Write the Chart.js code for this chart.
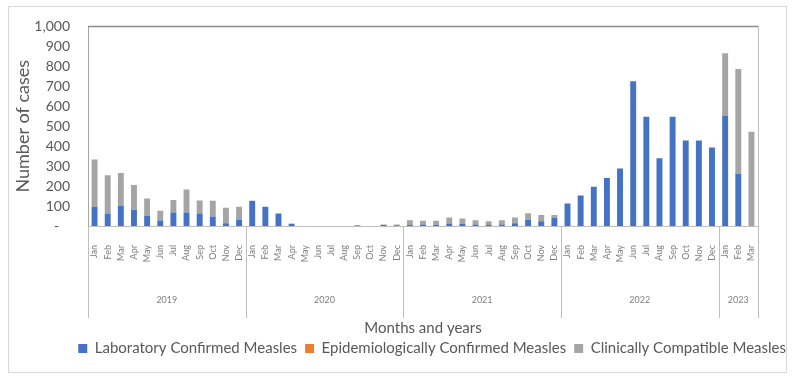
<!DOCTYPE html>
<html>
<head>
<meta charset="utf-8">
<script src="https://cdn.jsdelivr.net/npm/chart.js@4.4.1/dist/chart.umd.min.js"></script>
<style>
    html, body { margin: 0; padding: 0; background: #fff; }
    #wrap { width: 794px; height: 380px; }
</style>
</head>
<body>
<div id="wrap"><canvas id="measles-chart" width="794" height="380"></canvas></div>
<script>
    // chart data
    const months = ['Jan', 'Feb', 'Mar', 'Apr', 'May', 'Jun', 'Jul', 'Aug', 'Sep', 'Oct', 'Nov', 'Dec'];
    const years = ['2019', '2020', '2021', '2022', '2023'];
    const months_per_year = [12, 12, 12, 12, 3];

    const lab_confirmed = [
        95, 62, 100, 80, 52, 28, 68, 68, 62, 48, 14, 33,
        126, 97, 63, 10, 0, 0, 0, 0, 2, 0, 5, 4,
        6, 8, 6, 12, 10, 8, 5, 8, 14, 30, 24, 40,
        113, 153, 197, 240, 288, 725, 547, 340, 547, 428, 428, 393,
        552, 262, 0
    ];
    const epi_confirmed = [
        0, 0, 0, 0, 0, 0, 0, 0, 0, 0, 0, 0,
        0, 0, 0, 0, 0, 0, 0, 0, 0, 0, 0, 0,
        0, 0, 0, 0, 0, 0, 0, 0, 0, 0, 0, 0,
        0, 0, 0, 0, 0, 0, 0, 0, 0, 0, 0, 0,
        0, 0, 0
    ];
    const clinically_compatible = [
        238, 192, 166, 126, 86, 48, 62, 115, 66, 78, 78, 63,
        0, 0, 0, 2, 0, 0, 0, 0, 3, 0, 3, 3,
        23, 18, 20, 31, 27, 21, 19, 21, 29, 34, 31, 15,
        0, 0, 0, 0, 0, 0, 0, 0, 0, 0, 0, 0,
        314, 524, 472
    ];
    const y_max = 1000;
    const y_step = 100;

    const font_family = "Lato, 'Liberation Sans', sans-serif";
    const text_color = '#595959';

    // month labels for every bar
    let labels = [];
    years.forEach((y, i) => {
        labels = labels.concat(months.slice(0, months_per_year[i]));
    });

    // white background + outer frame
    const frame_plugin = {
        id: 'frame',
        beforeDraw(chart) {
            const ctx = chart.ctx;
            ctx.save();
            ctx.fillStyle = '#fff';
            ctx.fillRect(0, 0, chart.width, chart.height);
            ctx.strokeStyle = '#d9d9d9';
            ctx.lineWidth = 1;
            ctx.strokeRect(8.5, 6.5, chart.width - 16, chart.height - 14);
            ctx.restore();
        }
    };

    // year groups below the month labels, plus x title
    const year_axis_plugin = {
        id: 'yearAxis',
        afterDraw(chart) {
            const ctx = chart.ctx;
            const x = chart.scales.x;
            const area = chart.chartArea;
            ctx.save();

            // top line of plot box
            ctx.strokeStyle = '#8c8c8c';
            ctx.lineWidth = 1.5;
            ctx.beginPath();
            ctx.moveTo(area.left, area.top);
            ctx.lineTo(area.right, area.top);
            ctx.stroke();

            ctx.strokeStyle = '#bfbfbf';
            ctx.lineWidth = 1;
            ctx.fillStyle = '#7f7f7f';
            ctx.font = '9px ' + font_family;
            ctx.textAlign = 'center';
            ctx.textBaseline = 'middle';
            let start = 0;
            years.forEach((y, i) => {
                const n = months_per_year[i];
                const x0 = Math.round(x.getPixelForValue(start - 0.5)) + 0.5;
                ctx.beginPath();
                ctx.moveTo(x0, area.bottom);
                ctx.lineTo(x0, area.bottom + 92);
                ctx.stroke();
                ctx.fillText(y, x.getPixelForValue(start + (n - 1) / 2), area.bottom + 74);
                start += n;
            });
            const x_end = Math.round(x.getPixelForValue(start - 0.5)) + 0.5;
            ctx.beginPath();
            ctx.moveTo(x_end, area.bottom);
            ctx.lineTo(x_end, area.bottom + 92);
            ctx.stroke();

            ctx.fillStyle = text_color;
            ctx.font = '15px ' + font_family;
            ctx.fillText('Months and years', (area.left + area.right) / 2, area.bottom + 102);
            ctx.restore();
        }
    };

    const ctx = document.getElementById('measles-chart');
    new Chart(ctx, {
        type: 'bar',
        data: {
            labels: labels,
            datasets: [{
                    label: 'Laboratory Confirmed Measles',
                    data: lab_confirmed,
                    backgroundColor: '#4472c4',
                    borderWidth: 0
                }, {
                    label: 'Epidemiologically Confirmed Measles',
                    data: epi_confirmed,
                    backgroundColor: '#ed7d31',
                    borderWidth: 0
                }, {
                    label: 'Clinically Compatible Measles',
                    data: clinically_compatible,
                    backgroundColor: '#a5a5a5',
                    borderWidth: 0
                }]
        },
        options: {
            responsive: false,
            animation: false,
            devicePixelRatio: 1,
            categoryPercentage: 1,
            barPercentage: 0.45,
            layout: {
                padding: { left: 8, right: 0, top: 18, bottom: 14 }
            },
            plugins: {
                tooltip: { enabled: false },
                legend: {
                    position: 'bottom',
                    align: 'end',
                    labels: {
                        boxWidth: 9,
                        boxHeight: 9,
                        padding: 8,
                        color: text_color,
                        font: { family: font_family, size: 15 }
                    }
                }
            },
            scales: {
                x: {
                    stacked: true,
                    grid: { display: false, drawTicks: false },
                    border: { color: '#bfbfbf' },
                    ticks: {
                        autoSkip: false,
                        minRotation: 90,
                        maxRotation: 90,
                        padding: 19,
                        color: '#7f7f7f',
                        font: { family: font_family, size: 9 }
                    },
                    afterFit: (s) => { s.height = 107; }
                },
                y: {
                    stacked: true,
                    min: 0,
                    max: y_max,
                    grid: { display: false, drawTicks: false },
                    border: { color: '#a6a6a6' },
                    ticks: {
                        stepSize: y_step,
                        padding: 18,
                        color: text_color,
                        font: { family: font_family, size: 14 },
                        callback: (v) => v === 0 ? '-   ' : v.toLocaleString('en-US')
                    },
                    title: {
                        display: true,
                        text: 'Number of cases',
                        color: text_color,
                        font: { family: font_family, size: 18 }
                    },
                    afterFit: (s) => { s.width = 80; }
                },
                y2: {
                    position: 'right',
                    grid: { display: false, drawTicks: false },
                    border: { color: '#bfbfbf' },
                    ticks: { display: false },
                    afterFit: (s) => { s.width = 36; }
                }
            }
        },
        plugins: [frame_plugin, year_axis_plugin]
    });
</script>
</body>
</html>
